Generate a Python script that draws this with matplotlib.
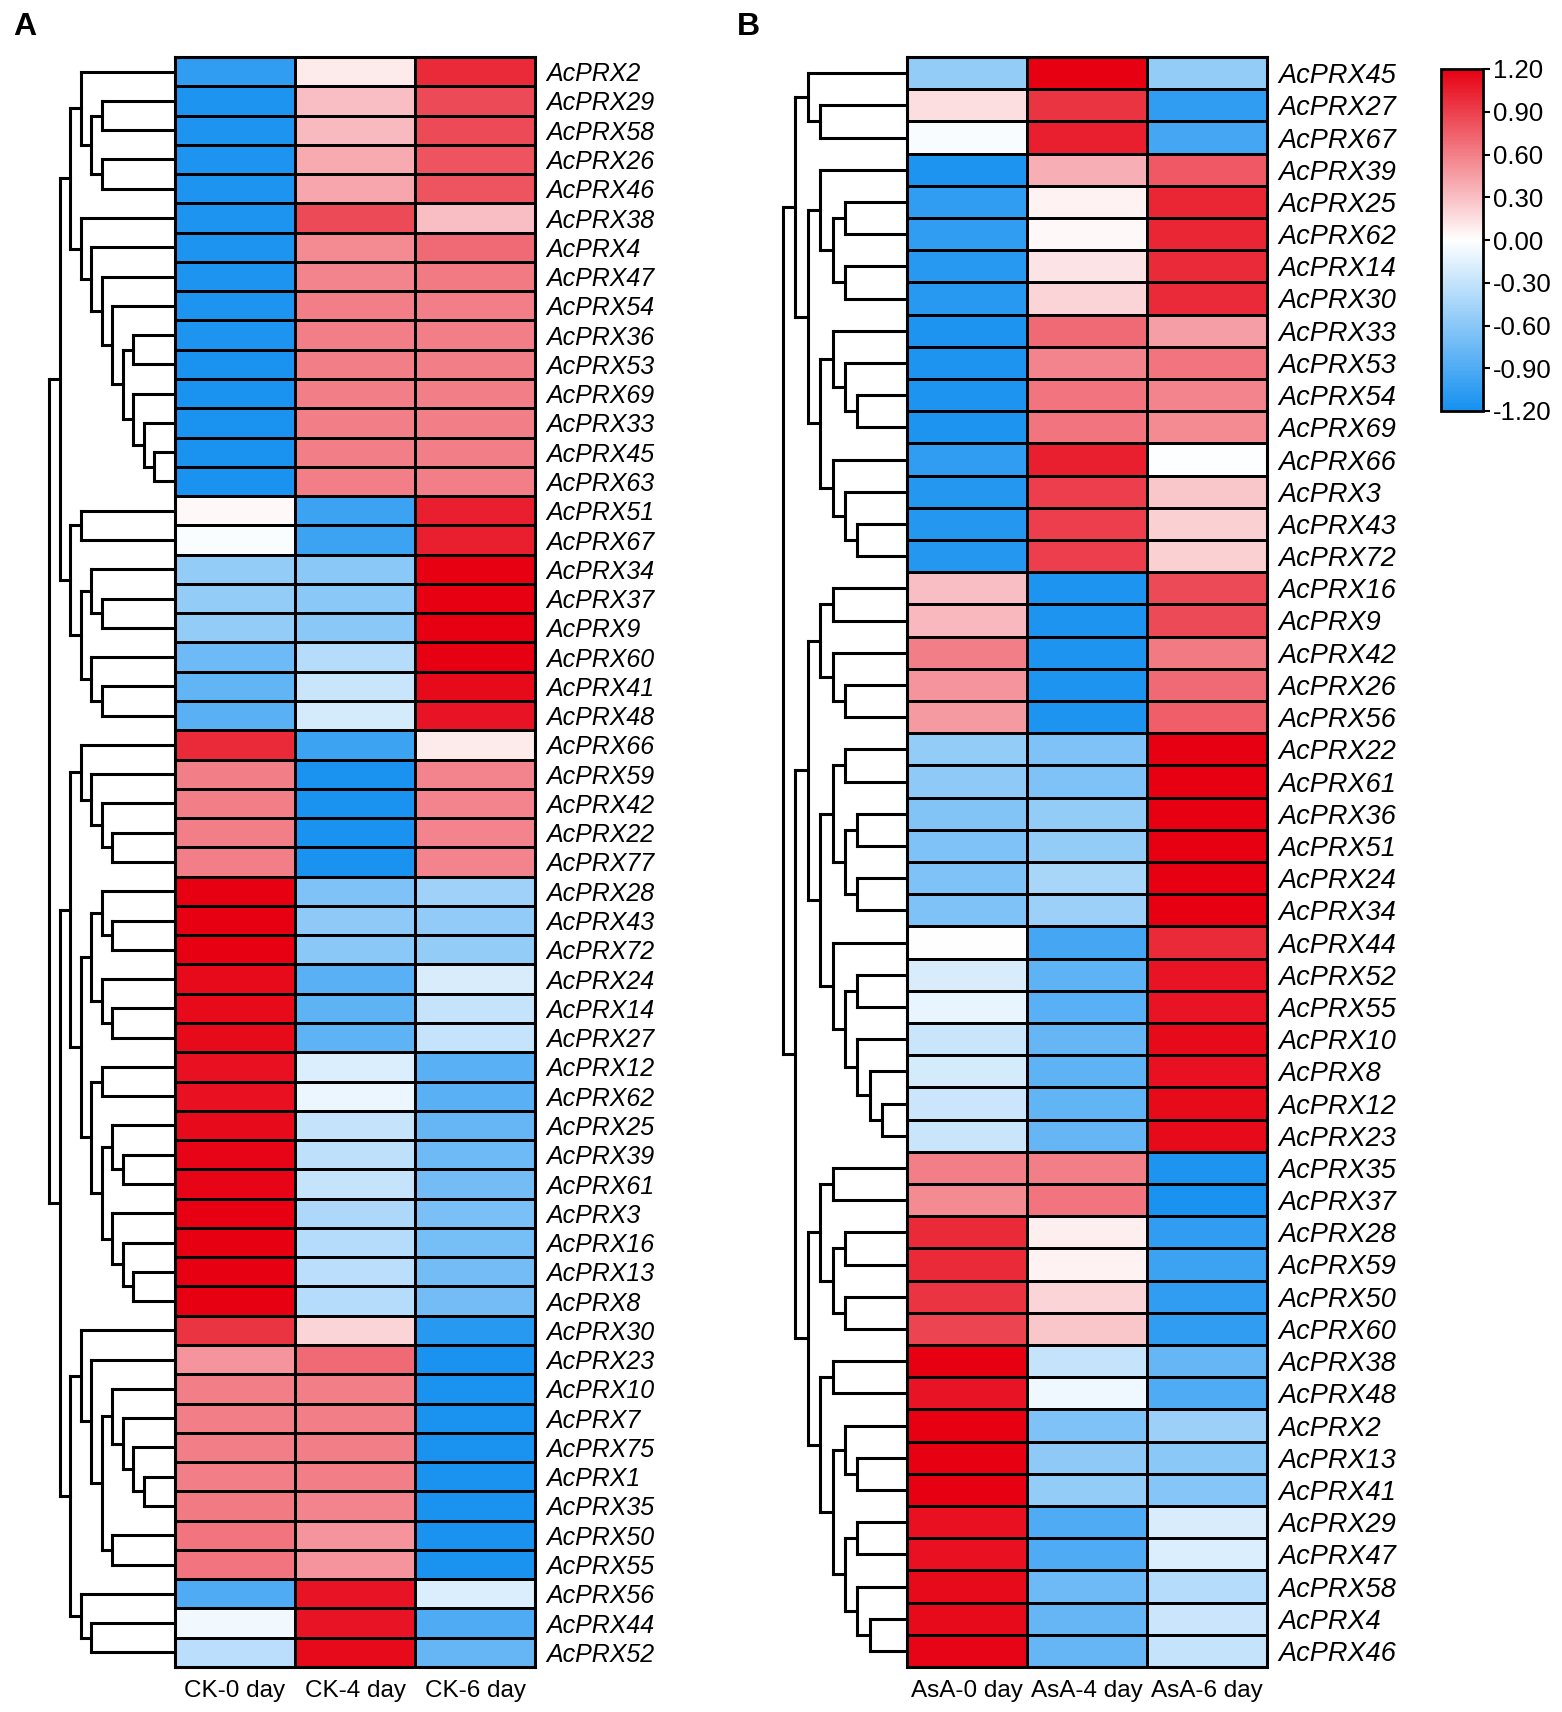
import numpy as np
import matplotlib
matplotlib.use("Agg")
import matplotlib.pyplot as plt
from matplotlib.colors import LinearSegmentedColormap

plt.rcParams['font.family'] = ['Liberation Sans', 'DejaVu Sans']

# ---- panel A data (row order as drawn) ----
genes_a = [2, 29, 58, 26, 46, 38, 4, 47, 54, 36, 53, 69, 33, 45, 63,
           51, 67, 34, 37, 9, 60, 41, 48, 66, 59, 42, 22, 77,
           28, 43, 72, 24, 14, 27, 12, 62, 25, 39, 61, 3, 16, 13, 8,
           30, 23, 10, 7, 75, 1, 35, 50, 55, 56, 44, 52]
cols_a = ['CK-0 day', 'CK-4 day', 'CK-6 day']
ck0 = [-1.05, -1.15, -1.15, -1.15, -1.15, -1.15, -1.15, -1.15, -1.15, -1.15, -1.18, -1.18, -1.18, -1.18, -1.18,
       0.03, -0.02, -0.55, -0.55, -0.55, -0.75, -0.8, -0.85,
       1.0, 0.6, 0.6, 0.6, 0.6,
       1.2, 1.2, 1.2, 1.15, 1.15, 1.15, 1.12, 1.12, 1.15, 1.18, 1.18, 1.2, 1.2, 1.2, 1.2,
       0.95, 0.5, 0.6, 0.6, 0.6, 0.6, 0.62, 0.65, 0.65,
       -0.9, -0.07, -0.35]
ck4 = [0.1, 0.3, 0.32, 0.4, 0.42, 0.85, 0.55, 0.58, 0.6, 0.6, 0.6, 0.6, 0.6, 0.6, 0.6,
       -1.0, -1.0, -0.6, -0.6, -0.6, -0.38, -0.28, -0.22,
       -1.0, -1.18, -1.18, -1.18, -1.18,
       -0.65, -0.58, -0.6, -0.85, -0.82, -0.82, -0.18, -0.1, -0.3, -0.33, -0.3, -0.42, -0.38, -0.35, -0.38,
       0.2, 0.7, 0.6, 0.6, 0.6, 0.6, 0.58, 0.5, 0.5,
       1.1, 1.1, 1.15]
ck6 = [1.0, 0.85, 0.85, 0.8, 0.8, 0.3, 0.7, 0.62, 0.6, 0.6, 0.6, 0.6, 0.6, 0.6, 0.6,
       1.05, 1.05, 1.2, 1.2, 1.2, 1.2, 1.15, 1.1,
       0.1, 0.58, 0.58, 0.58, 0.58,
       -0.48, -0.56, -0.55, -0.2, -0.3, -0.3, -0.85, -0.85, -0.78, -0.75, -0.72, -0.68, -0.7, -0.72, -0.72,
       -1.1, -1.18, -1.18, -1.18, -1.18, -1.18, -1.18, -1.18, -1.18,
       -0.18, -0.9, -0.78]
tree_a = ((((2, ((29, 58), (26, 46))),
            (38, (4, (47, (54, ((36, 53), (69, (33, (45, 63))))))))),
           ((51, 67), ((34, (37, 9)), (60, (41, 48))))),
          (((66, (59, (42, (22, 77)))),
            (((28, (43, 72)), (24, (14, 27))),
             ((12, 62), ((25, (39, 61)), (3, (16, (13, 8))))))),
           ((30, (23, ((10, (7, (75, (1, 35)))), (50, 55)))),
            (56, (44, 52)))))

# ---- panel B data ----
genes_b = [45, 27, 67, 39, 25, 62, 14, 30, 33, 53, 54, 69, 66, 3, 43, 72,
           16, 9, 42, 26, 56, 22, 61, 36, 51, 24, 34,
           44, 52, 55, 10, 8, 12, 23,
           35, 37, 28, 59, 50, 60, 38, 48, 2, 13, 41, 29, 47, 58, 4, 46]
cols_b = ['AsA-0 day', 'AsA-4 day', 'AsA-6 day']
asa0 = [-0.55, 0.15, -0.03, -1.15, -1.05, -1.05, -1.1, -1.1, -1.15, -1.15, -1.15, -1.15, -1.05, -1.12, -1.12, -1.12,
        0.3, 0.33, 0.6, 0.5, 0.47,
        -0.55, -0.58, -0.63, -0.65, -0.65, -0.65,
        0.0, -0.2, -0.12, -0.28, -0.22, -0.27, -0.28,
        0.6, 0.55, 1.0, 1.0, 0.95, 0.88,
        1.2, 1.1, 1.2, 1.2, 1.2, 1.12, 1.12, 1.15, 1.15, 1.18]
asa4 = [1.2, 0.95, 1.05, 0.38, 0.06, 0.03, 0.13, 0.2, 0.7, 0.58, 0.65, 0.65, 1.05, 0.9, 0.9, 0.9,
        -1.15, -1.15, -1.15, -1.15, -1.15,
        -0.65, -0.65, -0.55, -0.55, -0.45, -0.5,
        -0.95, -0.82, -0.85, -0.78, -0.82, -0.8, -0.78,
        0.6, 0.65, 0.08, 0.06, 0.2, 0.27,
        -0.3, -0.08, -0.65, -0.58, -0.55, -0.9, -0.9, -0.75, -0.78, -0.78]
asa6 = [-0.55, -1.05, -0.95, 0.78, 1.02, 1.02, 1.0, 1.0, 0.45, 0.65, 0.58, 0.55, -0.01, 0.27, 0.22, 0.22,
        0.85, 0.85, 0.62, 0.7, 0.75,
        1.2, 1.2, 1.2, 1.2, 1.2, 1.2,
        1.0, 1.1, 1.1, 1.15, 1.12, 1.15, 1.15,
        -1.15, -1.18, -1.05, -1.0, -1.05, -1.05,
        -0.78, -0.9, -0.5, -0.6, -0.62, -0.2, -0.18, -0.38, -0.27, -0.3]
tree_b = ((((45, (27, 67)),
            ((39, ((25, 62), (14, 30))),
             ((33, (53, (54, 69))), (66, (3, (43, 72))))))),
          ((((16, 9), (42, (26, 56))),
            (((22, 61), ((36, 51), (24, 34))),
             (44, ((52, 55), (10, (8, (12, 23))))))),
           (((35, 37), ((28, 59), (50, 60))),
            ((38, 48), ((2, (13, 41)), ((29, 47), (58, (4, 46))))))))

cb_ticks = [-1.2, -0.9, -0.6, -0.3, 0.0, 0.3, 0.6, 0.9, 1.2]

cmap = LinearSegmentedColormap.from_list('bwr2', ['#1590f0', '#ffffff', '#e60012'])
W, H = 1562, 1712


def rect(x0, y0, x1, y1):
    return [x0 / W, 1 - y1 / H, (x1 - x0) / W, (y1 - y0) / H]


def max_depth(node, d=0):
    if isinstance(node, int):
        return d
    return max(max_depth(node[0], d + 1), max_depth(node[1], d + 1))


def draw_tree(ax, node, pos, leaf_x, d=0):
    # returns the y of the node, drawing its links
    if isinstance(node, int):
        return pos[node], leaf_x
    ys, xs = [], []
    for child in node:
        y, x = draw_tree(ax, child, pos, leaf_x, d + 1)
        ys.append(y)
        xs.append(x)
        ax.plot([d, x], [y, y], color='black', lw=2.2, solid_capstyle='projecting', clip_on=False)
    ax.plot([d, d], ys, color='black', lw=2.2, solid_capstyle='projecting', clip_on=False)
    return np.mean(ys), d


def panel(genes, cols, values, tree, x_dend, x_heat0, x_heat1, y0, y1, fs, lab_pad):
    n = len(genes)
    labels = [f'AcPRX{g}' for g in genes]
    pos = {g: i + 0.5 for i, g in enumerate(genes)}

    axh = fig.add_axes(rect(x_heat0, y0, x_heat1, y1))
    data = np.array(values).T
    axh.pcolormesh(np.arange(len(cols) + 1), np.arange(n + 1), data, cmap=cmap,
                   vmin=-1.2, vmax=1.2, edgecolors='black', linewidth=2.0)
    axh.set_xlim(0, len(cols))
    axh.set_ylim(n, 0)
    axh.yaxis.tick_right()
    axh.set_yticks(np.arange(n) + 0.5)
    axh.set_yticklabels(labels, fontsize=fs, fontstyle='italic')
    axh.set_xticks(np.arange(len(cols)) + 0.5)
    axh.set_xticklabels(cols, fontsize=17.5)
    axh.tick_params(axis='y', length=0, pad=lab_pad)
    axh.tick_params(axis='x', length=0, pad=9)
    for s in axh.spines.values():
        s.set_linewidth(2.2)

    leaf_x = max_depth(tree) + 1
    axd = fig.add_axes(rect(x_dend, y0, x_heat0, y1))
    draw_tree(axd, tree, pos, leaf_x)
    axd.set_xlim(0, leaf_x)
    axd.set_ylim(n, 0)
    axd.axis('off')
    return axh


fig = plt.figure(figsize=(W / 100, H / 100), dpi=100)

panel(genes_a, cols_a, [ck0, ck4, ck6], tree_a, 49, 175, 535, 57, 1667, 18, 8)
axb = panel(genes_b, cols_b, [asa0, asa4, asa6], tree_b, 783, 907, 1267, 57, 1667, 19.5, 8)

cax = fig.add_axes(rect(1441, 69, 1483, 411))
sm = plt.cm.ScalarMappable(cmap=cmap, norm=plt.Normalize(-1.2, 1.2))
cb = fig.colorbar(sm, cax=cax, ticks=cb_ticks)
cb.ax.set_yticklabels([f'{t:.2f}' for t in cb_ticks], fontsize=18.5)
cb.ax.tick_params(length=5, width=1.5, pad=2)
cb.outline.set_linewidth(2)

fig.text(13 / W, 1 - 12 / H, 'A', fontsize=23, fontweight='bold', va='top', ha='left')
fig.text(737 / W, 1 - 12 / H, 'B', fontsize=23, fontweight='bold', va='top', ha='left')

fig.savefig('out.png', dpi=100)
